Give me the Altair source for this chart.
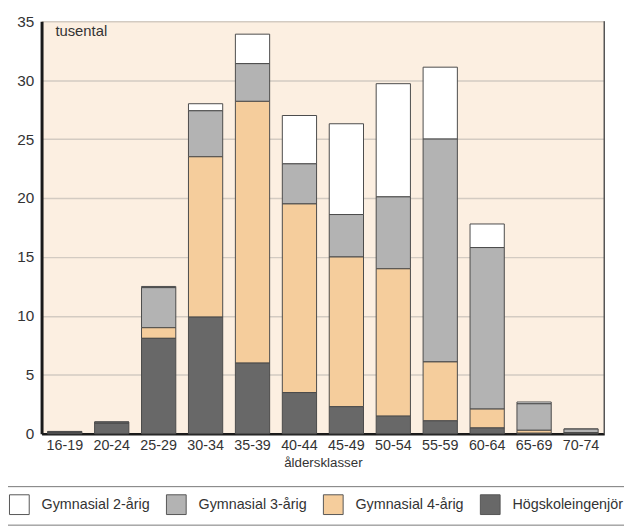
import altair as alt
import pandas as pd

categories = ["16-19", "20-24", "25-29", "30-34", "35-39", "40-44",
              "45-49", "50-54", "55-59", "60-64", "65-69", "70-74"]
series = ["Gymnasial 2-årig", "Gymnasial 3-årig", "Gymnasial 4-årig", "Högskoleingenjör"]
colors = ["#ffffff", "#b3b3b3", "#f5cd9c", "#686868"]
stack_order = [3, 2, 1, 0]

hogskole = [0.1, 0.9, 8.1, 9.9, 6.0, 3.5, 2.3, 1.5, 1.1, 0.5, 0.05, 0.05]
gym4 = [0.0, 0.0, 0.9, 13.6, 22.2, 16.0, 12.7, 12.5, 5.0, 1.6, 0.25, 0.05]
gym3 = [0.1, 0.1, 3.4, 3.9, 3.2, 3.4, 3.6, 6.1, 18.9, 13.7, 2.25, 0.3]
gym2 = [0.0, 0.0, 0.1, 0.6, 2.5, 4.1, 7.7, 9.6, 6.1, 2.0, 0.15, 0.0]

values = [gym2, gym3, gym4, hogskole]
rows = []
for s, vals, o in zip(series, values, stack_order):
    for c, v in zip(categories, vals):
        rows.append({"klass": c, "serie": s, "varde": v, "ordning": o})
df = pd.DataFrame(rows)

FONT = "Liberation Sans"
W, H = 570, 418

bars = alt.Chart(df).mark_bar(stroke="#4a4a4a", strokeWidth=1).encode(
    x=alt.X("klass:N", sort=categories,
            scale=alt.Scale(paddingInner=0.27, paddingOuter=0.13),
            axis=alt.Axis(title="åldersklasser", labelAngle=0, ticks=False,
                          domainColor="#1a1a1a", domainWidth=2.5,
                          labelFont=FONT, labelFontSize=14.5, labelColor="#333333",
                          labelPadding=5, titleFont=FONT, titleFontSize=13.5,
                          titleFontWeight="normal", titleColor="#333333",
                          titlePadding=4)),
    y=alt.Y("varde:Q", stack="zero",
            scale=alt.Scale(domain=[0, 35], nice=False),
            axis=alt.Axis(title=None, values=[0, 5, 10, 15, 20, 25, 30, 35],
                          ticks=False, domainColor="#1a1a1a", domainWidth=3,
                          gridColor="#d3cbc2", gridWidth=1.5,
                          labelFont=FONT, labelFontSize=15.5, labelColor="#333333",
                          labelPadding=8)),
    color=alt.Color("serie:N", sort=series,
                    scale=alt.Scale(domain=series, range=colors),
                    legend=alt.Legend(title=None, orient="none", direction="horizontal",
                                      legendX=-41, legendY=471,
                                      symbolType="square", symbolSize=400,
                                      symbolStrokeColor="#555555", symbolStrokeWidth=1,
                                      symbolOpacity=1,
                                      labelFont=FONT, labelFontSize=14.5, labelColor="#333333",
                                      labelOffset=12, columnPadding=14,
                                      strokeColor="#777777", padding=8,
                                      labelLimit=300)),
    order=alt.Order("ordning:Q", sort="ascending"),
)

unit_df = pd.DataFrame({"t": ["tusental"]})
label = alt.Chart(unit_df).mark_text(
    align="left", baseline="middle", font=FONT, fontSize=15, color="#333333"
).encode(x=alt.value(14), y=alt.value(10), text="t:N")

right_edge = alt.Chart(unit_df).mark_rule(color="#555555", strokeWidth=1.5).encode(
    x=alt.value(W), y=alt.value(0), y2=alt.value(H)
)

chart = alt.layer(bars, label, right_edge).properties(
    width=W, height=H,
    autosize=alt.AutoSizeParams(type="none"),
    padding={"left": 34, "top": 10, "right": 20, "bottom": 90},
).configure_view(fill="#fcefe1", stroke=None)

chart.save("out.html", embed_options={"renderer": "svg", "actions": False})
